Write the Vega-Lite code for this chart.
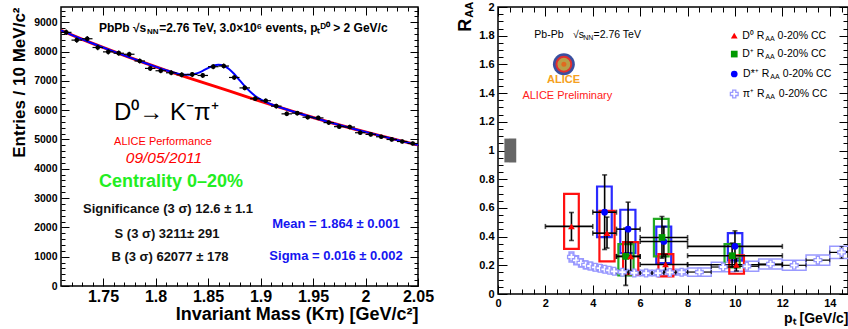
{
"$schema":"https://vega.github.io/schema/vega-lite/v6.json",
"background":"white",
"padding":{"left":9,"top":0,"right":0,"bottom":0},
"spacing":80,
"bounds":"flush",
"config":{
 "view":{"stroke":"black","strokeWidth":1.5},
 "font":"Liberation Sans",
 "axis":{"grid":false,"domain":false,"tickColor":"black","tickWidth":1,"labelColor":"black","titleColor":"black","labelFont":"Liberation Sans","titleFont":"Liberation Sans","labelFontWeight":"bold","titleFontWeight":"bold","labelFlush":false,"labelOverlap":false,"labelBound":false},
 "text":{"font":"Liberation Sans"}
},
"datasets":{
 "hist":[
  {"m":1.715,"n":8655,"dn":93,"dm":0.005},{"m":1.725,"n":8390,"dn":92,"dm":0.005},{"m":1.735,"n":8437,"dn":92,"dm":0.005},{"m":1.745,"n":8138,"dn":90,"dm":0.005},
  {"m":1.755,"n":7989,"dn":89,"dm":0.005},{"m":1.765,"n":7943,"dn":89,"dm":0.005},{"m":1.775,"n":7908,"dn":89,"dm":0.005},{"m":1.785,"n":7678,"dn":88,"dm":0.005},
  {"m":1.795,"n":7425,"dn":86,"dm":0.005},{"m":1.805,"n":7345,"dn":86,"dm":0.005},{"m":1.815,"n":7276,"dn":85,"dm":0.005},{"m":1.825,"n":7207,"dn":85,"dm":0.005},
  {"m":1.835,"n":7218,"dn":85,"dm":0.005},{"m":1.845,"n":7184,"dn":85,"dm":0.005},{"m":1.855,"n":7483,"dn":87,"dm":0.005},{"m":1.865,"n":7506,"dn":87,"dm":0.005},
  {"m":1.875,"n":7115,"dn":84,"dm":0.005},{"m":1.885,"n":6759,"dn":82,"dm":0.005},{"m":1.895,"n":6391,"dn":80,"dm":0.005},{"m":1.905,"n":6322,"dn":80,"dm":0.005},
  {"m":1.915,"n":6138,"dn":78,"dm":0.005},{"m":1.925,"n":5874,"dn":77,"dm":0.005},{"m":1.935,"n":5897,"dn":77,"dm":0.005},{"m":1.945,"n":5759,"dn":76,"dm":0.005},
  {"m":1.955,"n":5736,"dn":76,"dm":0.005},{"m":1.965,"n":5575,"dn":75,"dm":0.005},{"m":1.975,"n":5437,"dn":74,"dm":0.005},{"m":1.985,"n":5425,"dn":74,"dm":0.005},
  {"m":1.995,"n":5230,"dn":72,"dm":0.005},{"m":2.005,"n":5172,"dn":72,"dm":0.005},{"m":2.015,"n":5092,"dn":71,"dm":0.005},{"m":2.025,"n":5000,"dn":71,"dm":0.005},
  {"m":2.035,"n":4931,"dn":70,"dm":0.005},{"m":2.045,"n":4862,"dn":70,"dm":0.005}
 ],
 "bkg":[
  {"m":1.71,"v":8720},{"m":1.73,"v":8420},{"m":1.75,"v":8140},{"m":1.77,"v":7870},{"m":1.79,"v":7610},{"m":1.81,"v":7360},{"m":1.83,"v":7120},{"m":1.85,"v":6890},{"m":1.87,"v":6660},
  {"m":1.89,"v":6420},{"m":1.91,"v":6190},{"m":1.93,"v":5965},{"m":1.95,"v":5750},{"m":1.97,"v":5545},{"m":1.99,"v":5350},{"m":2.01,"v":5165},{"m":2.03,"v":4985},{"m":2.05,"v":4810}
 ],
 "fit":[
  {"m":1.71,"v":8720},{"m":1.73,"v":8420},{"m":1.75,"v":8140},{"m":1.77,"v":7870},{"m":1.79,"v":7610},{"m":1.80,"v":7485},{"m":1.81,"v":7363},{"m":1.82,"v":7258},
  {"m":1.83,"v":7204},{"m":1.835,"v":7217},{"m":1.84,"v":7265},{"m":1.845,"v":7343},{"m":1.85,"v":7436},{"m":1.855,"v":7515},{"m":1.86,"v":7550},{"m":1.865,"v":7516},
  {"m":1.87,"v":7406},{"m":1.875,"v":7232},{"m":1.88,"v":7025},{"m":1.885,"v":6818},{"m":1.89,"v":6634},{"m":1.895,"v":6484},{"m":1.90,"v":6369},{"m":1.91,"v":6203},
  {"m":1.92,"v":6080},{"m":1.93,"v":5965},{"m":1.95,"v":5750},{"m":1.97,"v":5545},{"m":1.99,"v":5350},{"m":2.01,"v":5165},{"m":2.03,"v":4985},{"m":2.05,"v":4810}
 ],
 "ltext":[
  {"k":"top","m":1.7462,"v":8804,"t":"PbPb √s"},
  {"k":"topsub","m":1.7918,"v":8667,"t":"NN"},
  {"k":"top","m":1.8035,"v":8804,"t":"=2.76 TeV, 3.0×10⁶ events, pₜᴰ⁰ > 2 GeV/c"},
  {"k":"decay","m":1.7605,"v":5915,"t":"D⁰→ K⁻π⁺"},
  {"k":"perf","m":1.8071,"v":4918,"t":"ALICE Performance"},
  {"k":"date","m":1.8081,"v":4368,"t":"09/05/2011"},
  {"k":"cent","m":1.8148,"v":3552,"t":"Centrality 0–20%"},
  {"k":"stat","m":1.8119,"v":2614,"t":"Significance (3 σ) 12.6 ± 1.1"},
  {"k":"stat","m":1.811,"v":1778,"t":"S (3 σ) 3211± 291"},
  {"k":"stat","m":1.8138,"v":997,"t":"B (3 σ) 62077 ± 178"},
  {"k":"fit","m":1.9719,"v":2122,"t":"Mean = 1.864 ± 0.001"},
  {"k":"fit","m":1.9719,"v":1032,"t":"Sigma = 0.016 ± 0.002"}
 ],
 "pion":[
  {"pt":3.1,"raa":0.258,"blo":3.0,"bhi":3.2,"slo":0.253,"shi":0.263,"ylo":0.223,"yhi":0.293},
  {"pt":3.3,"raa":0.235,"blo":3.2,"bhi":3.4,"slo":0.230,"shi":0.240,"ylo":0.203,"yhi":0.267},
  {"pt":3.5,"raa":0.217,"blo":3.4,"bhi":3.6,"slo":0.212,"shi":0.222,"ylo":0.188,"yhi":0.246},
  {"pt":3.7,"raa":0.203,"blo":3.6,"bhi":3.8,"slo":0.198,"shi":0.208,"ylo":0.176,"yhi":0.230},
  {"pt":3.9,"raa":0.195,"blo":3.8,"bhi":4.0,"slo":0.190,"shi":0.200,"ylo":0.169,"yhi":0.221},
  {"pt":4.1,"raa":0.186,"blo":4.0,"bhi":4.2,"slo":0.181,"shi":0.191,"ylo":0.162,"yhi":0.210},
  {"pt":4.3,"raa":0.180,"blo":4.2,"bhi":4.4,"slo":0.175,"shi":0.185,"ylo":0.157,"yhi":0.203},
  {"pt":4.5,"raa":0.172,"blo":4.4,"bhi":4.6,"slo":0.167,"shi":0.177,"ylo":0.150,"yhi":0.194},
  {"pt":4.7,"raa":0.165,"blo":4.6,"bhi":4.8,"slo":0.160,"shi":0.170,"ylo":0.144,"yhi":0.186},
  {"pt":4.9,"raa":0.158,"blo":4.8,"bhi":5.0,"slo":0.153,"shi":0.163,"ylo":0.138,"yhi":0.178},
  {"pt":5.25,"raa":0.152,"blo":5.0,"bhi":5.5,"slo":0.147,"shi":0.157,"ylo":0.133,"yhi":0.171},
  {"pt":5.75,"raa":0.147,"blo":5.5,"bhi":6.0,"slo":0.142,"shi":0.152,"ylo":0.128,"yhi":0.166},
  {"pt":6.25,"raa":0.146,"blo":6.0,"bhi":6.5,"slo":0.140,"shi":0.152,"ylo":0.127,"yhi":0.165},
  {"pt":6.75,"raa":0.146,"blo":6.5,"bhi":7.0,"slo":0.140,"shi":0.152,"ylo":0.127,"yhi":0.165},
  {"pt":7.25,"raa":0.150,"blo":7.0,"bhi":7.5,"slo":0.143,"shi":0.157,"ylo":0.130,"yhi":0.170},
  {"pt":7.75,"raa":0.152,"blo":7.5,"bhi":8.0,"slo":0.145,"shi":0.159,"ylo":0.132,"yhi":0.172},
  {"pt":8.5,"raa":0.153,"blo":8.0,"bhi":9.0,"slo":0.145,"shi":0.161,"ylo":0.124,"yhi":0.182},
  {"pt":9.5,"raa":0.188,"blo":9.0,"bhi":10.0,"slo":0.179,"shi":0.197,"ylo":0.155,"yhi":0.221},
  {"pt":10.5,"raa":0.193,"blo":10.0,"bhi":11.0,"slo":0.182,"shi":0.204,"ylo":0.158,"yhi":0.228},
  {"pt":11.5,"raa":0.209,"blo":11.0,"bhi":12.0,"slo":0.196,"shi":0.222,"ylo":0.175,"yhi":0.244},
  {"pt":12.5,"raa":0.200,"blo":12.0,"bhi":13.0,"slo":0.184,"shi":0.216,"ylo":0.165,"yhi":0.236},
  {"pt":13.5,"raa":0.236,"blo":13.0,"bhi":14.0,"slo":0.212,"shi":0.260,"ylo":0.200,"yhi":0.272},
  {"pt":14.5,"raa":0.290,"blo":14.0,"bhi":15.0,"slo":0.250,"shi":0.330,"ylo":0.247,"yhi":0.333}
 ],
 "dmes":[
  {"sp":"Dstar","pt":4.5,"raa":0.57,"blo":4,"bhi":5,"slo":0.31,"shi":0.83,"ylo":0.397,"yhi":0.749,"xlo":4.18,"xhi":4.8},
  {"sp":"Dstar","pt":5.49,"raa":0.452,"blo":5,"bhi":6,"slo":0.27,"shi":0.64,"ylo":0.285,"yhi":0.587,"xlo":5.16,"xhi":5.8},
  {"sp":"Dstar","pt":7.0,"raa":0.366,"blo":6,"bhi":8,"slo":0.26,"shi":0.47,"ylo":0.216,"yhi":0.47,"xlo":6.68,"xhi":7.31},
  {"sp":"Dstar","pt":10.0,"raa":0.332,"blo":8,"bhi":12,"slo":0.19,"shi":0.44,"ylo":0.234,"yhi":0.424,"xlo":9.7,"xhi":10.31},
  {"sp":"Dplus","pt":5.39,"raa":0.262,"blo":5,"bhi":6,"slo":0.06,"shi":0.46,"ylo":0.13,"yhi":0.348,"xlo":5.08,"xhi":5.72},
  {"sp":"Dplus","pt":6.92,"raa":0.394,"blo":6,"bhi":8,"slo":0.25,"shi":0.54,"ylo":0.262,"yhi":0.524,"xlo":6.58,"xhi":7.2},
  {"sp":"Dplus","pt":9.88,"raa":0.267,"blo":8,"bhi":12,"slo":0.19,"shi":0.355,"ylo":0.186,"yhi":0.348,"xlo":9.56,"xhi":10.2},
  {"sp":"D0","pt":3.1,"raa":0.471,"blo":2,"bhi":4,"slo":0.373,"shi":0.568,"ylo":0.315,"yhi":0.698,"xlo":2.79,"xhi":3.41},
  {"sp":"D0","pt":4.6,"raa":0.424,"blo":4,"bhi":5,"slo":0.32,"shi":0.536,"ylo":0.227,"yhi":0.58,"xlo":4.28,"xhi":4.92},
  {"sp":"D0","pt":5.6,"raa":0.262,"blo":5,"bhi":6,"slo":0.16,"shi":0.36,"ylo":0.139,"yhi":0.362,"xlo":5.28,"xhi":5.92},
  {"sp":"D0","pt":7.07,"raa":0.206,"blo":6,"bhi":8,"slo":0.158,"shi":0.276,"ylo":0.123,"yhi":0.278,"xlo":6.77,"xhi":7.4},
  {"sp":"D0","pt":10.06,"raa":0.204,"blo":8,"bhi":12,"slo":0.16,"shi":0.25,"ylo":0.141,"yhi":0.269,"xlo":9.76,"xhi":10.38}
 ],
 "norm":[{"x0":0.27,"x1":0.77,"y0":0.917,"y1":1.083}],
 "logo":[{"pt":2.78,"raa":1.601}],
 "legd":[{"sp":"D0","pt":9.97,"raa":1.80},{"sp":"Dplus","pt":9.97,"raa":1.672},{"sp":"Dstar","pt":9.97,"raa":1.533}],
 "legp":[{"pt":9.97,"raa":1.394}],
 "rtext":[
  {"k":"pb","pt":1.532,"raa":1.805,"t":"Pb-Pb"},
  {"k":"pb","pt":3.169,"raa":1.805,"t":"√s"},
  {"k":"pb","pt":4.03,"raa":1.805,"t":"=2.76 TeV"},
  {"k":"sub","pt":3.60,"raa":1.782,"t":"NN"},
  {"k":"alice","pt":2.768,"raa":1.494,"t":"ALICE"},
  {"k":"prelim","pt":2.925,"raa":1.377,"t":"ALICE Preliminary"},
  {"k":"lpre","pt":11.236,"raa":1.80,"t":"D⁰ R"},
  {"k":"lpre","pt":11.236,"raa":1.672,"t":"D⁺ R"},
  {"k":"lpre","pt":11.447,"raa":1.533,"t":"D*⁺ R"},
  {"k":"lpre","pt":11.25,"raa":1.394,"t":"π⁺ R"},
  {"k":"sub","pt":11.278,"raa":1.778,"t":"AA"},
  {"k":"sub","pt":11.278,"raa":1.650,"t":"AA"},
  {"k":"sub","pt":11.49,"raa":1.511,"t":"AA"},
  {"k":"sub","pt":11.29,"raa":1.372,"t":"AA"},
  {"k":"lrest","pt":11.80,"raa":1.80,"t":"0-20% CC"},
  {"k":"lrest","pt":11.80,"raa":1.672,"t":"0-20% CC"},
  {"k":"lrest","pt":12.02,"raa":1.533,"t":"0-20% CC"},
  {"k":"lrest","pt":11.85,"raa":1.394,"t":"0-20% CC"},
  {"k":"rt","pt":-1.127,"raa":1.827,"t":"R"},
  {"k":"rtsub","pt":-1.04,"raa":1.925,"t":"AA"}
 ]
},
"hconcat":[
 {
  "width":357,"height":279,
  "resolve":{"axis":{"x":"independent","y":"independent"}},
  "layer":[
   {"data":{"name":"bkg"},"mark":{"type":"line","color":"#ff0000","strokeWidth":3,"interpolate":"monotone"},
    "encoding":{
     "x":{"field":"m","type":"quantitative","scale":{"domain":[1.71,2.05],"nice":false,"zero":false},
          "axis":{"orient":"bottom","values":[1.75,1.8,1.85,1.9,1.95,2,2.05],"labels":false,"tickSize":-8,"title":null}},
     "y":{"field":"v","type":"quantitative","scale":{"domain":[0,9520],"nice":false,"zero":false},
          "axis":{"orient":"left","values":[0,1000,2000,3000,4000,5000,6000,7000,8000,9000],"labels":false,"tickSize":-8,"title":null}}}},
   {"data":{"name":"fit"},"mark":{"type":"line","color":"#0000ff","strokeWidth":2,"interpolate":"monotone"},
    "encoding":{
     "x":{"field":"m","type":"quantitative","axis":{"orient":"bottom","values":[1.72,1.73,1.74,1.76,1.77,1.78,1.79,1.81,1.82,1.83,1.84,1.86,1.87,1.88,1.89,1.91,1.92,1.93,1.94,1.96,1.97,1.98,1.99,2.01,2.02,2.03,2.04],"labels":false,"tickSize":-4,"title":null}},
     "y":{"field":"v","type":"quantitative","axis":{"orient":"left","values":[200,400,600,800,1200,1400,1600,1800,2200,2400,2600,2800,3200,3400,3600,3800,4200,4400,4600,4800,5200,5400,5600,5800,6200,6400,6600,6800,7200,7400,7600,7800,8200,8400,8600,8800,9200,9400],"labels":false,"tickSize":-4,"title":null}}}},
   {"data":{"name":"hist"},"mark":{"type":"errorbar","color":"black","thickness":1.2},
    "encoding":{"x":{"field":"m","type":"quantitative","axis":null},"xError":{"field":"dm"},"y":{"field":"n","type":"quantitative","axis":null}}},
   {"data":{"name":"hist"},"mark":{"type":"errorbar","color":"black","thickness":1.2},
    "encoding":{"x":{"field":"m","type":"quantitative","axis":null},"y":{"field":"n","type":"quantitative","axis":null},"yError":{"field":"dn"}}},
   {"data":{"name":"hist"},"mark":{"type":"point","filled":true,"color":"black","size":22,"opacity":1},
    "encoding":{
     "x":{"field":"m","type":"quantitative","axis":{"orient":"bottom","values":[1.75,1.8,1.85,1.9,1.95,2,2.05],"format":"~g","ticks":false,"labelFontSize":16,"labelPadding":2,"title":"Invariant Mass (Kπ) [GeV/c²]","titleFontSize":18,"titleAnchor":"end","titlePadding":1}},
     "y":{"field":"n","type":"quantitative","axis":{"orient":"left","values":[0,1000,2000,3000,4000,5000,6000,7000,8000,9000],"format":"d","ticks":false,"labelFontSize":10.5,"labelPadding":4,"title":"Entries / 10 MeV/c²","titleFontSize":17,"titleAnchor":"end","titlePadding":5}}}},
   {"data":{"name":"ltext"},"transform":[{"filter":"datum.k==='top'"}],
    "mark":{"type":"text","align":"left","baseline":"middle","fontSize":12,"fontWeight":"bold","color":"black"},
    "encoding":{
     "x":{"field":"m","type":"quantitative","axis":{"orient":"top","values":[1.75,1.8,1.85,1.9,1.95,2,2.05],"labels":false,"tickSize":-8,"title":null}},
     "y":{"field":"v","type":"quantitative","axis":{"orient":"right","values":[0,1000,2000,3000,4000,5000,6000,7000,8000,9000],"labels":false,"tickSize":-8,"title":null}},
     "text":{"field":"t"}}},
   {"data":{"name":"ltext"},"transform":[{"filter":"datum.k==='stat'"}],
    "mark":{"type":"text","align":"center","baseline":"middle","fontSize":13,"fontWeight":"bold","color":"#111111"},
    "encoding":{
     "x":{"field":"m","type":"quantitative","axis":{"orient":"top","values":[1.72,1.73,1.74,1.76,1.77,1.78,1.79,1.81,1.82,1.83,1.84,1.86,1.87,1.88,1.89,1.91,1.92,1.93,1.94,1.96,1.97,1.98,1.99,2.01,2.02,2.03,2.04],"labels":false,"tickSize":-4,"title":null}},
     "y":{"field":"v","type":"quantitative","axis":{"orient":"right","values":[200,400,600,800,1200,1400,1600,1800,2200,2400,2600,2800,3200,3400,3600,3800,4200,4400,4600,4800,5200,5400,5600,5800,6200,6400,6600,6800,7200,7400,7600,7800,8200,8400,8600,8800,9200,9400],"labels":false,"tickSize":-4,"title":null}},
     "text":{"field":"t"}}},
   {"data":{"name":"ltext"},"transform":[{"filter":"datum.k==='topsub'"}],
    "mark":{"type":"text","align":"left","baseline":"middle","fontSize":8,"fontWeight":"bold","color":"black"},
    "encoding":{"x":{"field":"m","type":"quantitative","axis":null},"y":{"field":"v","type":"quantitative","axis":null},"text":{"field":"t"}}},
   {"data":{"name":"ltext"},"transform":[{"filter":"datum.k==='decay'"}],
    "mark":{"type":"text","align":"left","baseline":"middle","fontSize":24,"color":"black"},
    "encoding":{"x":{"field":"m","type":"quantitative","axis":null},"y":{"field":"v","type":"quantitative","axis":null},"text":{"field":"t"}}},
   {"data":{"name":"ltext"},"transform":[{"filter":"datum.k==='perf'"}],
    "mark":{"type":"text","align":"center","baseline":"middle","fontSize":11,"color":"#ff0000"},
    "encoding":{"x":{"field":"m","type":"quantitative","axis":null},"y":{"field":"v","type":"quantitative","axis":null},"text":{"field":"t"}}},
   {"data":{"name":"ltext"},"transform":[{"filter":"datum.k==='date'"}],
    "mark":{"type":"text","align":"center","baseline":"middle","fontSize":15.5,"fontStyle":"italic","color":"#ff0000"},
    "encoding":{"x":{"field":"m","type":"quantitative","axis":null},"y":{"field":"v","type":"quantitative","axis":null},"text":{"field":"t"}}},
   {"data":{"name":"ltext"},"transform":[{"filter":"datum.k==='cent'"}],
    "mark":{"type":"text","align":"center","baseline":"middle","fontSize":18,"fontWeight":"bold","color":"#22ee22"},
    "encoding":{"x":{"field":"m","type":"quantitative","axis":null},"y":{"field":"v","type":"quantitative","axis":null},"text":{"field":"t"}}},
   {"data":{"name":"ltext"},"transform":[{"filter":"datum.k==='fit'"}],
    "mark":{"type":"text","align":"center","baseline":"middle","fontSize":13,"fontWeight":"bold","color":"#1515f0"},
    "encoding":{"x":{"field":"m","type":"quantitative","axis":null},"y":{"field":"v","type":"quantitative","axis":null},"text":{"field":"t"}}}
  ]
 },
 {
  "width":350,"height":287,
  "resolve":{"axis":{"x":"independent","y":"independent"}},
  "layer":[
   {"data":{"name":"norm"},"mark":{"type":"rect","color":"#666666"},
    "encoding":{
     "x":{"field":"x0","type":"quantitative","scale":{"domain":[0,14.77],"nice":false,"zero":false},
          "axis":{"orient":"bottom","values":[0,2,4,6,8,10,12,14],"ticks":false,"labelFontSize":11,"labelPadding":3,"title":"pₜ [GeV/c]","titleFontSize":14,"titleAnchor":"end","titlePadding":3}},
     "x2":{"field":"x1"},
     "y":{"field":"y0","type":"quantitative","scale":{"domain":[0,2],"nice":false,"zero":false},
          "axis":{"orient":"left","values":[0,0.2,0.4,0.6,0.8,1,1.2,1.4,1.6,1.8,2],"format":"~g","ticks":false,"labelFontSize":11,"labelPadding":4,"title":null}},
     "y2":{"field":"y1"}}},
   {"mark":{"type":"rule","color":"black","strokeWidth":1,"strokeDash":[3,3]},
    "encoding":{"y":{"datum":1,"type":"quantitative","axis":null}}},
   {"data":{"name":"pion"},"mark":{"type":"rect","fill":"white","fillOpacity":0,"stroke":"#9999ff","strokeWidth":1.5,"clip":true},
    "encoding":{
     "x":{"field":"blo","type":"quantitative","axis":{"orient":"bottom","values":[0,2,4,6,8,10,12,14],"labels":false,"tickSize":-9,"title":null}},
     "x2":{"field":"bhi"},
     "y":{"field":"ylo","type":"quantitative","axis":{"orient":"left","values":[0,0.2,0.4,0.6,0.8,1,1.2,1.4,1.6,1.8,2],"labels":false,"tickSize":-9,"title":null}},
     "y2":{"field":"yhi"}}},
   {"data":{"name":"dmes"},"mark":{"type":"rect","fill":"white","fillOpacity":0,"strokeWidth":2.2},
    "encoding":{
     "x":{"field":"xlo","type":"quantitative","axis":{"orient":"bottom","values":[0.5,1,1.5,2.5,3,3.5,4.5,5,5.5,6.5,7,7.5,8.5,9,9.5,10.5,11,11.5,12.5,13,13.5,14.5],"labels":false,"tickSize":-5,"title":null}},
     "x2":{"field":"xhi"},
     "y":{"field":"ylo","type":"quantitative","axis":{"orient":"left","values":[0.05,0.1,0.15,0.25,0.3,0.35,0.45,0.5,0.55,0.65,0.7,0.75,0.85,0.9,0.95,1.05,1.1,1.15,1.25,1.3,1.35,1.45,1.5,1.55,1.65,1.7,1.75,1.85,1.9,1.95],"labels":false,"tickSize":-5,"title":null}},
     "y2":{"field":"yhi"},
     "stroke":{"field":"sp","type":"nominal","scale":{"domain":["D0","Dplus","Dstar"],"range":["#ff1010","#22aa22","#2a2aff"]},"legend":null}}},
   {"data":{"name":"pion"},"mark":{"type":"errorbar","color":"black","thickness":1.2,"ticks":{"size":4},"clip":true},
    "encoding":{"x":{"field":"blo","type":"quantitative","axis":null},"x2":{"field":"bhi"},"y":{"field":"raa","type":"quantitative","axis":null}}},
   {"data":{"name":"dmes"},"mark":{"type":"errorbar","color":"black","thickness":1.6,"ticks":{"size":5}},
    "encoding":{"x":{"field":"blo","type":"quantitative","axis":null},"x2":{"field":"bhi"},"y":{"field":"raa","type":"quantitative","axis":null}}},
   {"data":{"name":"pion"},"mark":{"type":"errorbar","color":"black","thickness":1.2,"ticks":{"size":4},"clip":true},
    "encoding":{"x":{"field":"pt","type":"quantitative","axis":null},"y":{"field":"slo","type":"quantitative","axis":null},"y2":{"field":"shi"}}},
   {"data":{"name":"dmes"},"mark":{"type":"errorbar","color":"black","thickness":1.6,"ticks":{"size":5}},
    "encoding":{"x":{"field":"pt","type":"quantitative","axis":null},"y":{"field":"slo","type":"quantitative","axis":null},"y2":{"field":"shi"}}},
   {"data":{"name":"pion"},"mark":{"type":"point","shape":"cross","filled":true,"fill":"white","stroke":"#9999ff","strokeWidth":1.3,"size":60,"opacity":1,"clip":true},
    "encoding":{
     "x":{"field":"pt","type":"quantitative","axis":{"orient":"top","values":[0,2,4,6,8,10,12,14],"labels":false,"tickSize":-9,"title":null}},
     "y":{"field":"raa","type":"quantitative","axis":{"orient":"right","values":[0,0.2,0.4,0.6,0.8,1,1.2,1.4,1.6,1.8,2],"labels":false,"tickSize":-9,"title":null}}}},
   {"data":{"name":"dmes"},"mark":{"type":"point","filled":true,"size":45,"opacity":1},
    "encoding":{
     "x":{"field":"pt","type":"quantitative","axis":{"orient":"top","values":[0.5,1,1.5,2.5,3,3.5,4.5,5,5.5,6.5,7,7.5,8.5,9,9.5,10.5,11,11.5,12.5,13,13.5,14.5],"labels":false,"tickSize":-5,"title":null}},
     "y":{"field":"raa","type":"quantitative","axis":{"orient":"right","values":[0.05,0.1,0.15,0.25,0.3,0.35,0.45,0.5,0.55,0.65,0.7,0.75,0.85,0.9,0.95,1.05,1.1,1.15,1.25,1.3,1.35,1.45,1.5,1.55,1.65,1.7,1.75,1.85,1.9,1.95],"labels":false,"tickSize":-5,"title":null}},
     "color":{"field":"sp","type":"nominal","scale":{"domain":["D0","Dplus","Dstar"],"range":["#ff0000","#009900","#0000ff"]},"legend":null},
     "shape":{"field":"sp","type":"nominal","scale":{"domain":["D0","Dplus","Dstar"],"range":["triangle-up","square","circle"]},"legend":null}}},
   {"data":{"name":"legd"},"mark":{"type":"point","filled":true,"size":45,"opacity":1},
    "encoding":{
     "x":{"field":"pt","type":"quantitative","axis":null},
     "y":{"field":"raa","type":"quantitative","axis":null},
     "color":{"field":"sp","type":"nominal","legend":null},
     "shape":{"field":"sp","type":"nominal","legend":null}}},
   {"data":{"name":"legp"},"mark":{"type":"point","shape":"cross","filled":true,"fill":"white","stroke":"#9999ff","strokeWidth":1.3,"size":60,"opacity":1},
    "encoding":{"x":{"field":"pt","type":"quantitative","axis":null},"y":{"field":"raa","type":"quantitative","axis":null}}},
   {"data":{"name":"logo"},"mark":{"type":"point","shape":"circle","filled":true,"color":"#3a4fa0","size":480,"opacity":1},
    "encoding":{"x":{"field":"pt","type":"quantitative","axis":null},"y":{"field":"raa","type":"quantitative","axis":null}}},
   {"data":{"name":"logo"},"mark":{"type":"point","shape":"circle","filled":true,"fill":"#b8a048","stroke":"#e03030","strokeWidth":2,"size":220,"opacity":1},
    "encoding":{"x":{"field":"pt","type":"quantitative","axis":null},"y":{"field":"raa","type":"quantitative","axis":null}}},
   {"data":{"name":"logo"},"mark":{"type":"point","shape":"circle","filled":true,"color":"#e06a20","size":25,"opacity":1},
    "encoding":{"x":{"field":"pt","type":"quantitative","axis":null},"y":{"field":"raa","type":"quantitative","axis":null}}},
   {"data":{"name":"rtext"},"transform":[{"filter":"datum.k==='pb'"}],
    "mark":{"type":"text","align":"left","baseline":"middle","fontSize":10.5,"color":"black"},
    "encoding":{"x":{"field":"pt","type":"quantitative","axis":null},"y":{"field":"raa","type":"quantitative","axis":null},"text":{"field":"t"}}},
   {"data":{"name":"rtext"},"transform":[{"filter":"datum.k==='sub'"}],
    "mark":{"type":"text","align":"left","baseline":"middle","fontSize":7,"color":"black"},
    "encoding":{"x":{"field":"pt","type":"quantitative","axis":null},"y":{"field":"raa","type":"quantitative","axis":null},"text":{"field":"t"}}},
   {"data":{"name":"rtext"},"transform":[{"filter":"datum.k==='alice'"}],
    "mark":{"type":"text","align":"center","baseline":"middle","fontSize":11,"fontWeight":"bold","color":"#f5a020"},
    "encoding":{"x":{"field":"pt","type":"quantitative","axis":null},"y":{"field":"raa","type":"quantitative","axis":null},"text":{"field":"t"}}},
   {"data":{"name":"rtext"},"transform":[{"filter":"datum.k==='prelim'"}],
    "mark":{"type":"text","align":"center","baseline":"middle","fontSize":11,"color":"#ff2020"},
    "encoding":{"x":{"field":"pt","type":"quantitative","axis":null},"y":{"field":"raa","type":"quantitative","axis":null},"text":{"field":"t"}}},
   {"data":{"name":"rtext"},"transform":[{"filter":"datum.k==='lpre'"}],
    "mark":{"type":"text","align":"right","baseline":"middle","fontSize":10.5,"color":"black"},
    "encoding":{"x":{"field":"pt","type":"quantitative","axis":null},"y":{"field":"raa","type":"quantitative","axis":null},"text":{"field":"t"}}},
   {"data":{"name":"rtext"},"transform":[{"filter":"datum.k==='lrest'"}],
    "mark":{"type":"text","align":"left","baseline":"middle","fontSize":10.5,"color":"black"},
    "encoding":{"x":{"field":"pt","type":"quantitative","axis":null},"y":{"field":"raa","type":"quantitative","axis":null},"text":{"field":"t"}}},
   {"data":{"name":"rtext"},"transform":[{"filter":"datum.k==='rt'"}],
    "mark":{"type":"text","align":"left","baseline":"alphabetic","angle":270,"fontSize":18,"fontWeight":"bold","color":"black"},
    "encoding":{"x":{"field":"pt","type":"quantitative","axis":null},"y":{"field":"raa","type":"quantitative","axis":null},"text":{"field":"t"}}},
   {"data":{"name":"rtext"},"transform":[{"filter":"datum.k==='rtsub'"}],
    "mark":{"type":"text","align":"left","baseline":"alphabetic","angle":270,"fontSize":11,"fontWeight":"bold","color":"black"},
    "encoding":{"x":{"field":"pt","type":"quantitative","axis":null},"y":{"field":"raa","type":"quantitative","axis":null},"text":{"field":"t"}}}
  ]
 }
]
}
